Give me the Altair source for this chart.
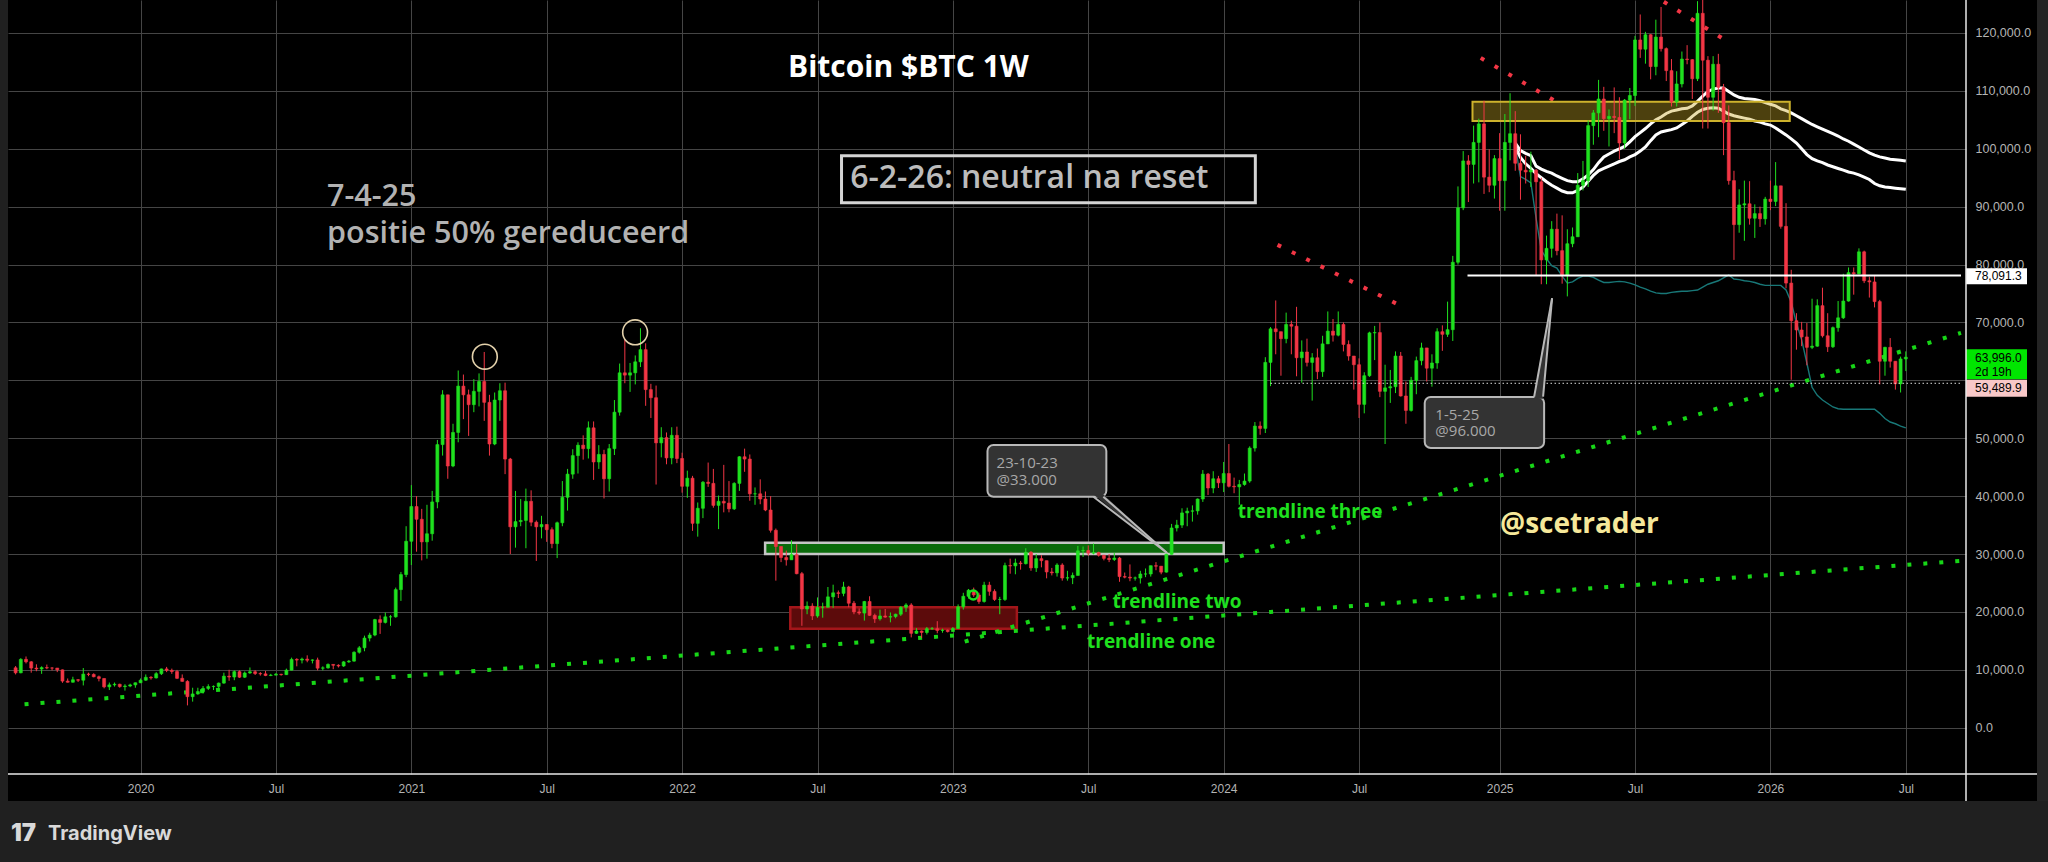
import altair as alt
import pandas as pd

# ------------------------------------------------------------------
# Weekly BTC candles, values in thousands of USD. Open = previous close.
# ------------------------------------------------------------------
FIRST_OPEN = 10.35

START_2019 = "2019-07-22"
CLOSE_2019 = [9.48, 11.8,
              11.38, 10.3, 10.14, 10.38,
              10.31, 10.3, 9.99, 8.05, 7.85,
              8.28, 8.2, 9.25, 9.2,
              8.8, 8.5, 7.05, 7.4,
              7.5, 7.1, 7.2, 7.39, 7.76]
HIGH_2019 = [10.65, 12.0,
             12.3, 11.5, 10.95, 10.6,
             10.9, 10.45, 10.3, 10.05, 8.5,
             8.8, 8.4, 10.3, 9.5,
             9.4, 9.0, 8.5, 7.8,
             7.8, 7.6, 7.5, 7.6, 7.8]
LOW_2019 = [9.2, 9.4,
            11.1, 9.5, 9.75, 9.3,
            10.1, 9.9, 9.6, 7.75, 7.8,
            7.8, 7.9, 7.3, 8.9,
            8.7, 8.0, 6.8, 6.5,
            7.1, 6.9, 6.4, 7.0, 6.9]

START_2020 = "2020-01-06"
CLOSE_2020 = [8.2, 8.7, 8.6, 9.33,
              10.15, 9.9, 9.7, 8.53,
              8.0, 5.36, 5.83, 6.24, 6.78,
              7.1, 7.13, 7.7, 8.9,
              8.75, 9.68, 8.72, 9.45,
              9.66, 9.35, 9.3, 9.01, 9.08,
              9.23, 9.16, 9.93, 11.8,
              11.68, 11.85, 11.65, 11.7, 10.28,
              10.33, 10.93, 10.78, 10.66,
              11.37, 11.5, 13.03, 13.8,
              15.48, 16.0, 18.67, 18.18, 19.15,
              19.15, 23.85, 26.45, 32.2]
HIGH_2020 = [8.5, 9.2, 8.9, 9.6,
             10.2, 10.5, 10.2, 9.98,
             9.2, 8.2, 6.9, 6.9, 7.2,
             7.5, 7.3, 7.8, 9.5,
             10.0, 9.9, 9.9, 9.7,
             10.4, 9.95, 9.6, 9.8, 9.3,
             9.45, 9.3, 10.2, 12.1,
             12.0, 12.1, 12.5, 11.8, 12.1,
             10.6, 11.1, 10.95, 10.95,
             11.5, 11.7, 13.2, 14.1,
             15.9, 16.4, 18.8, 19.4, 19.9,
             19.45, 24.2, 26.9, 34.8]
LOW_2020 = [7.7, 8.1, 8.3, 8.5,
            9.1, 9.6, 9.3, 8.4,
            7.95, 3.85, 4.5, 5.7, 5.9,
            6.5, 6.5, 6.8, 7.6,
            8.1, 8.2, 8.6, 8.6,
            9.3, 9.1, 9.0, 8.9, 8.9,
            9.05, 9.0, 9.1, 9.9,
            10.6, 11.1, 11.3, 11.1, 9.9,
            9.9, 10.2, 10.1, 10.4,
            10.5, 11.2, 11.4, 12.8,
            13.2, 14.9, 15.8, 16.2, 18.0,
            17.6, 19.0, 21.9, 26.0]

START_2021 = "2021-01-04"
CLOSE_2021 = [38.2, 36.0, 32.1, 33.5,
              39.0, 48.9, 57.5, 45.2,
              51.0, 59.0, 57.5, 55.8, 58.1,
              59.8, 56.2, 49.0, 56.6,
              58.2, 46.4, 34.7, 35.6, 35.8,
              39.1, 35.5, 34.7, 35.1,
              34.2, 31.8, 35.4, 39.8,
              43.8, 47.0, 48.8, 48.2, 51.8,
              45.9, 47.2, 43.0, 48.2,
              54.5, 61.3, 60.9, 61.3,
              63.2, 65.3, 58.4, 57.0, 49.2,
              50.1, 46.6, 50.5, 46.5]
HIGH_2021 = [41.9, 40.0, 37.8, 38.5,
             40.9, 49.7, 58.3, 57.5,
             52.5, 61.7, 61.0, 58.4, 60.2,
             61.2, 64.9, 57.5, 57.9,
             59.5, 59.6, 46.6, 40.9, 39.5,
             41.3, 41.0, 35.8, 36.6,
             35.1, 34.6, 35.6, 42.6,
             44.7, 48.1, 49.3, 50.5, 52.9,
             52.9, 48.8, 48.0, 49.0,
             56.6, 62.9, 67.0, 63.0,
             64.3, 69.0, 66.4, 59.4, 59.1,
             51.9, 51.0, 51.9, 52.0]
LOW_2021 = [28.1, 30.4, 28.9, 29.2,
            32.3, 37.9, 47.0, 43.0,
            45.0, 49.3, 53.3, 50.4, 54.5,
            55.5, 53.0, 47.0, 48.8,
            53.0, 43.8, 30.0, 31.1, 34.8,
            31.0, 34.8, 28.8, 32.7,
            32.1, 31.0, 29.3, 34.8,
            37.5, 43.0, 43.9, 46.3, 46.5,
            42.8, 44.7, 39.6, 40.8,
            47.1, 53.9, 59.5, 58.0,
            59.3, 62.3, 55.6, 53.5, 42.0,
            46.7, 45.5, 45.5, 45.7]

START_2022 = "2022-01-03"
CLOSE_2022 = [41.7, 43.1, 35.3, 37.9, 42.4,
              42.2, 38.4, 39.1, 38.8,
              37.8, 42.2, 46.8, 46.4,
              40.4, 40.4, 39.5, 37.6,
              34.1, 31.3, 29.4, 29.0, 29.9,
              26.6, 20.5, 21.0, 19.3,
              20.8, 20.8, 22.6, 23.3,
              23.2, 24.3, 21.5, 20.0, 19.8,
              21.8, 19.4, 18.8, 19.3,
              19.1, 19.2, 19.6, 20.8, 21.2,
              16.3, 16.7, 16.45, 17.1,
              17.1, 16.8, 16.85, 16.6]
HIGH_2022 = [47.5, 44.4, 43.5, 38.9, 42.6,
             45.8, 44.7, 40.1, 45.4,
             42.6, 42.4, 46.9, 48.2,
             47.2, 41.5, 42.9, 40.8,
             40.0, 34.4, 31.0, 30.6, 32.4,
             31.7, 26.9, 21.8, 21.5,
             22.5, 21.6, 24.3, 24.7,
             23.7, 25.2, 24.5, 21.9, 20.6,
             21.9, 22.7, 19.7, 20.4,
             20.5, 19.9, 19.7, 21.0, 21.5,
             21.5, 17.2, 16.8, 17.4,
             17.4, 18.4, 17.1, 16.95]
LOW_2022 = [40.6, 39.7, 34.0, 33.0, 36.2,
            41.6, 38.0, 34.3, 37.2,
            37.2, 37.6, 40.9, 44.2,
            39.2, 38.5, 38.6, 37.4,
            33.7, 25.4, 28.6, 28.0, 29.2,
            26.5, 17.6, 19.6, 18.6,
            19.0, 19.0, 20.8, 20.7,
            22.4, 22.7, 20.8, 19.6, 19.5,
            18.5, 19.3, 18.1, 18.5,
            19.0, 18.2, 18.9, 19.3, 20.0,
            15.6, 16.2, 15.5, 16.1,
            16.9, 16.3, 16.4, 16.45]

START_2023 = "2023-01-02"
CLOSE_2023 = [17.13, 20.88, 22.7, 23.75, 22.93,
              21.8, 24.63, 23.55, 22.15,
              22.15, 28.0, 27.95, 28.45,
              28.33, 30.3, 27.6, 29.2,
              28.85, 26.9, 26.75, 28.1, 25.85,
              25.9, 26.3, 30.55, 30.6,
              30.15, 30.25, 29.8, 29.25, 29.05,
              29.3, 26.1, 26.0, 25.85,
              25.85, 26.55, 26.55, 27.98,
              27.9, 26.87, 29.95, 34.5, 35.0,
              37.1, 37.4, 37.45, 39.5,
              43.8, 41.4, 43.0, 42.3]
HIGH_2023 = [17.4, 21.3, 23.3, 23.96, 24.2,
             23.3, 25.2, 25.2, 23.9,
             22.6, 28.5, 29.2, 29.2,
             28.8, 31.0, 30.5, 30.0,
             29.8, 28.8, 27.6, 28.4, 28.4,
             27.1, 26.8, 31.4, 31.3,
             31.5, 31.8, 30.4, 29.7, 30.0,
             30.2, 29.5, 26.8, 28.2,
             26.1, 27.1, 27.5, 28.0,
             28.6, 27.9, 30.4, 35.2, 35.9,
             37.9, 38.0, 38.4, 39.6,
             44.5, 44.0, 44.3, 43.5]
LOW_2023 = [16.6, 17.1, 20.4, 22.3, 22.6,
            21.4, 21.6, 22.8, 21.9,
            19.6, 21.9, 26.6, 26.5,
            27.3, 28.2, 27.1, 26.9,
            27.7, 25.8, 26.3, 26.1, 25.4,
            25.4, 24.8, 26.3, 29.5,
            29.7, 29.95, 29.55, 28.9, 28.6,
            28.8, 25.2, 25.8, 25.3,
            25.4, 24.9, 26.0, 26.1,
            27.2, 26.5, 26.8, 29.9, 33.9,
            34.5, 34.8, 35.6, 36.8,
            39.0, 40.2, 40.5, 41.4]

START_2024 = "2024-01-01"
CLOSE_2024 = [43.9, 41.7, 41.6, 42.0, 42.6,
              48.3, 52.1, 51.7, 63.1,
              68.9, 68.4, 67.2, 69.65,
              69.35, 63.9, 64.9, 63.1, 63.9,
              61.5, 66.3, 68.5, 67.8,
              69.65, 66.2, 64.2, 62.7,
              55.85, 60.8, 68.2, 68.25, 58.1,
              58.7, 58.9, 64.2, 57.3,
              54.8, 60.0, 63.4, 65.6, 62.1,
              63.0, 68.4, 67.95, 68.75,
              80.4, 89.8, 97.9, 97.3,
              101.1, 104.3, 95.1, 93.7, 98.3]
HIGH_2024 = [45.9, 49.0, 43.2, 42.8, 43.9,
             48.6, 52.8, 52.9, 64.0,
             69.2, 73.8, 68.1, 71.7,
             70.3, 72.7, 66.9, 67.2, 64.7,
             65.5, 67.7, 71.9, 70.6,
             71.9, 70.0, 66.9, 63.8,
             63.8, 61.4, 68.4, 69.4, 70.0,
             62.7, 61.8, 65.0, 64.9,
             59.8, 60.6, 64.1, 66.5, 65.5,
             64.5, 69.0, 69.5, 73.6,
             81.5, 93.5, 99.6, 98.9,
             104.0, 105.2, 108.3, 99.9, 98.9]
LOW_2024 = [40.7, 41.5, 40.5, 38.5, 41.8,
            42.3, 47.7, 50.6, 50.9,
            59.0, 64.5, 60.8, 66.4,
            64.5, 60.7, 59.6, 62.4, 56.5,
            60.2, 60.6, 66.6, 66.7,
            67.6, 65.0, 63.4, 58.4,
            53.5, 54.3, 60.6, 63.5, 57.1,
            49.0, 56.1, 57.8, 57.2,
            52.5, 54.6, 57.6, 62.6, 59.8,
            58.9, 62.0, 65.1, 67.5,
            66.8, 80.0, 89.4, 90.8,
            94.0, 94.2, 92.2, 92.5, 91.4]

START_2025 = "2025-01-06"
CLOSE_2025 = [94.5, 101.1, 102.6, 97.5,
              96.3, 96.0, 96.3, 94.3,
              80.8, 82.8, 86.1, 82.4, 78.2,
              83.6, 84.8, 93.7, 94.5,
              104.0, 106.2, 108.6, 105.2,
              105.6, 105.4, 101.0, 108.4, 109.2,
              118.8, 117.2, 119.7, 114.2,
              119.3, 117.3, 113.5, 108.1,
              111.2, 115.5, 115.4, 112.1, 123.4,
              115.3, 108.9, 114.6, 110.6,
              104.5, 94.5, 86.9, 90.3,
              90.5, 88.0, 88.8, 87.9, 91.3]
HIGH_2025 = [102.7, 106.0, 109.6, 106.5,
             102.5, 98.8, 99.5, 96.5,
             95.0, 85.0, 87.5, 88.8, 88.5,
             86.1, 86.4, 95.8, 97.9,
             104.9, 106.7, 111.9, 110.7,
             106.8, 110.6, 108.9, 108.6, 110.5,
             119.5, 123.2, 120.2, 119.8,
             122.3, 124.5, 117.5, 115.5,
             113.4, 116.8, 117.9, 115.5, 125.5,
             126.2, 116.0, 116.0, 116.4,
             111.2, 107.5, 96.2, 93.0,
             94.5, 94.4, 90.4, 90.0, 91.7]
LOW_2025 = [89.3, 89.3, 98.0, 96.2,
            91.2, 94.0, 93.4, 78.2,
            76.6, 76.6, 81.2, 81.6, 76.7,
            74.5, 83.0, 85.1, 92.8,
            93.4, 100.7, 102.0, 103.1,
            100.4, 102.7, 98.2, 100.0, 105.1,
            107.4, 115.7, 114.7, 112.0,
            112.7, 116.8, 111.7, 107.3,
            107.3, 110.6, 114.6, 108.6, 111.7,
            103.5, 103.5, 106.6, 106.2,
            98.9, 93.8, 80.8, 85.5,
            84.1, 86.9, 84.6, 86.5, 86.9]

START_2026 = "2026-01-05"
CLOSE_2026 = [90.9, 93.6, 86.6, 76.8,
              70.3, 68.7, 67.5, 65.7,
              65.9, 72.9, 67.7, 65.8, 69.1,
              70.8, 73.7, 78.6, 78.4,
              82.2, 77.2, 77.0, 73.6,
              63.3, 65.7, 63.3, 59.4, 63.7,
              64.0]
HIGH_2026 = [94.5, 97.7, 93.6, 90.6,
             79.1, 71.6, 70.1, 69.9,
             74.1, 74.0, 76.0, 71.6, 69.3,
             73.7, 78.4, 79.5, 79.5,
             82.8, 82.4, 77.9, 78.1,
             73.9, 65.8, 67.3, 63.3, 64.1,
             65.0]
LOW_2026 = [89.4, 90.1, 86.2, 75.9,
            60.1, 65.3, 65.9, 62.6,
            65.4, 65.8, 67.4, 64.9, 65.6,
            68.4, 70.6, 73.6, 74.8,
            78.3, 76.8, 74.3, 72.6,
            59.3, 60.8, 62.2, 58.4, 57.9,
            61.6]

# ------------------------------------------------------------------
# Indicator lines (weekly, from 2025-01-27), thousands of USD
# ------------------------------------------------------------------
LINES_START = "2025-01-27"
MA_UPPER = [101.0,
            99.7, 99.2, 98.8, 97.0,
            96.5, 96.1, 95.8, 95.3, 94.9,
            94.5, 94.3, 94.3, 94.8,
            95.5, 96.4, 97.6, 98.6,
            99.1, 99.6, 100.0, 100.4, 101.2,
            102.1, 102.8, 103.5, 104.3,
            105.0, 105.5, 106.1, 106.5,
            106.7, 106.9, 107.0, 107.4, 108.2,
            109.1, 109.9, 110.3, 110.5,
            110.5, 109.9, 109.3, 108.9,
            108.7, 108.6, 108.5, 108.3, 108.0,
            107.7, 107.4, 106.9, 106.6,
            106.2, 105.7, 105.2, 104.7,
            104.2, 103.8, 103.4, 103.0, 102.6,
            102.2, 101.7, 101.3, 100.8,
            100.3, 99.8, 99.3, 98.9,
            98.6, 98.4, 98.2, 98.1, 98.0,
            97.9]
MA_LOWER = [100.3,
            98.5, 97.4, 96.6, 95.7,
            95.0, 94.3, 93.7, 93.2, 92.7,
            92.4, 92.4, 92.8, 93.4,
            94.4, 95.4, 96.2, 96.6,
            97.0, 97.4, 97.8, 98.1, 98.6,
            99.0, 99.6, 100.3, 101.4,
            102.4, 102.9, 103.1, 103.3,
            103.6, 104.2, 104.8, 105.6, 106.3,
            106.8, 107.0, 107.1, 107.0,
            106.5, 106.0, 105.7, 105.5,
            105.3, 105.1, 104.8, 104.6, 104.3,
            104.1, 103.6, 103.0, 102.4,
            101.7, 101.0, 100.0, 99.0,
            98.3, 97.9, 97.6, 97.2, 96.9,
            96.6, 96.3, 96.0, 95.8,
            95.5, 95.1, 94.7, 94.0,
            93.6, 93.4, 93.3, 93.2, 93.1,
            93.0]
TEAL_LINE = [100.4,
             95.2, 94.7, 94.1, 88.0,
             82.5, 81.0, 79.8, 79.4, 78.0,
             76.8, 77.0, 77.6, 78.0,
             78.0, 77.8, 77.3, 76.9,
             76.9, 77.0, 77.1, 77.0, 76.8,
             76.5, 76.1, 75.8, 75.4,
             75.1, 75.0, 75.0, 75.2,
             75.3, 75.4, 75.4, 75.5, 75.6,
             76.1, 76.6, 76.9, 77.2,
             77.7, 78.2, 77.5, 77.4,
             77.2, 77.1, 76.9, 76.6, 76.4,
             76.4, 76.4, 76.4, 75.6,
             73.5, 69.9, 67.0, 63.0,
             58.8, 57.4, 56.6, 56.0, 55.4,
             55.1, 55.0, 55.0, 55.0,
             55.0, 55.0, 55.0, 55.0,
             54.3, 53.4, 52.8, 52.5, 52.1,
             51.8]

# ------------------------------------------------------------------
# Drawings (dates, prices in thousands)
# ------------------------------------------------------------------
DOMAIN_START = "2019-07-18T12:00:00Z"
DOMAIN_END = "2026-09-18T05:00:00Z"

TREND_ID = ["one", "one", "two", "two"]
TREND_DATE = ["2019-08-03T00:00:00Z", DOMAIN_END, "2023-01-17T22:00:00Z", DOMAIN_END]
TREND_PRICE = [4.04, 28.82, 14.86, 68.2]

RES_ID = ["r1", "r1", "r2", "r2", "r3", "r3"]
RES_DATE = ["2024-03-13T10:00:00Z", "2024-09-01T22:00:00Z",
            "2024-12-11T14:00:00Z", "2025-04-02T02:00:00Z",
            "2025-08-14T17:00:00Z", "2025-11-13T14:00:00Z"]
RES_PRICE = [83.4, 72.45, 115.7, 107.4, 125.4, 118.1]

BOX_NAME = ["support", "accumulation", "resistance"]
BOX_START = ["2022-04-24T14:00:00Z", "2022-05-28T10:00:00Z", "2024-11-30T12:00:00Z"]
BOX_END = ["2024-01-01T02:00:00Z", "2023-03-29T00:00:00Z", "2026-01-31T00:00:00Z"]
BOX_LOW = [30.0, 17.1, 104.8]
BOX_HIGH = [31.96, 20.8, 108.14]

CIRCLE_DATE = ["2021-04-12T19:00:00Z", "2021-10-31T19:00:00Z"]
CIRCLE_PRICE = [64.09, 68.3]
RING_DATE = ["2023-01-29T10:00:00Z"]
RING_PRICE = [22.92]

LEVEL_PRICE = 78.0913
LEVEL_START = "2024-11-23T19:00:00Z"
LAST_LOW_PRICE = 59.4899
LAST_LOW_START = "2024-03-04T00:00:00Z"
LAST_PRICE = 63.996

CALLOUT_START = ["2023-02-17T12:00:00Z", "2024-09-27T07:00:00Z"]
CALLOUT_END = ["2023-07-27T07:00:00Z", "2025-03-06T19:00:00Z"]
CALLOUT_TOP = [48.83, 57.13]
CALLOUT_BOTTOM = [39.9, 48.32]
CALLOUT_TEXT_DATE = ["2023-03-01T19:00:00Z", "2024-10-11T14:00:00Z"]
CALLOUT_TEXT_PRICE = [44.85, 53.15]
CALLOUT_TEXT = ["23-10-23\n@33.000", "1-5-25\n@96.000"]
PTR_ID = ["p1", "p2"]
PTR_BASE_L = ["2023-07-09T22:00:00Z", "2025-02-21T10:00:00Z"]
PTR_BASE_R = ["2023-07-23T07:00:00Z", "2025-03-05T10:00:00Z"]
PTR_BASE_FILL = [40.3, 56.8]
PTR_BASE_EDGE = [39.9, 57.18]
PTR_TIP = ["2023-10-16T22:00:00Z", "2025-03-17T12:00:00Z"]
PTR_TIP_PRICE = [30.18, 74.18]

TITLE_TEXT = "Bitcoin $BTC 1W"
TITLE_DATE, TITLE_PRICE = "2022-11-03T05:00:00Z", 112.4
STATUS_TEXT = "6-2-26: neutral na reset"
STATUS_DATE, STATUS_PRICE = "2022-08-16T22:00:00Z", 93.18
STATUS_BOX = ("2022-08-05T07:00:00Z", "2024-02-12T14:00:00Z", 90.69, 98.81)
NOTE_TEXT = ["7-4-25", "positie 50% gereduceerd"]
NOTE_DATE = ["2020-09-12T17:00:00Z", "2020-09-12T17:00:00Z"]
NOTE_PRICE = [90.2, 83.64]
HANDLE_TEXT, HANDLE_DATE, HANDLE_PRICE = "@scetrader", "2025-01-06T14:00:00Z", 33.58
TL_TEXT = ["trendline three", "trendline two", "trendline one"]
TL_DATE = ["2024-01-19T22:00:00Z", "2023-08-04T10:00:00Z", "2023-07-01T07:00:00Z"]
TL_PRICE = [36.17, 20.63, 13.82]

TICK_DATES = ["2020-01-06", "2020-07-06", "2021-01-04", "2021-07-05", "2022-01-03",
              "2022-07-04", "2023-01-02", "2023-07-03", "2024-01-01", "2024-07-01",
              "2025-01-06", "2025-07-07", "2026-01-05", "2026-07-06"]
PRICE_TICKS = [0, 10000, 20000, 30000, 40000, 50000, 60000, 70000, 80000,
               90000, 100000, 110000, 120000]
HIDDEN_TICK = 60000   # covered by the price labels in the reference

# ------------------------------------------------------------------
GREEN = "#1fe01f"
RED = "#f23645"
DOT_GREEN = "#17d617"
GRID = "#454545"
AXIS_TXT = "#b4b4b4"
FRAME = "#202020"


def iso(ts):
    return pd.Timestamp(ts).strftime("%Y-%m-%dT%H:%M:%SZ")


def ms(s):
    return int(pd.Timestamp(s).value // 10**6)


years = [(START_2019, CLOSE_2019, HIGH_2019, LOW_2019),
         (START_2020, CLOSE_2020, HIGH_2020, LOW_2020),
         (START_2021, CLOSE_2021, HIGH_2021, LOW_2021),
         (START_2022, CLOSE_2022, HIGH_2022, LOW_2022),
         (START_2023, CLOSE_2023, HIGH_2023, LOW_2023),
         (START_2024, CLOSE_2024, HIGH_2024, LOW_2024),
         (START_2025, CLOSE_2025, HIGH_2025, LOW_2025),
         (START_2026, CLOSE_2026, HIGH_2026, LOW_2026)]
rows = []
prev = FIRST_OPEN
for start, cl, hi, lo in years:
    dates = pd.date_range(start, periods=len(cl), freq="7D")
    for d, c, h, l in zip(dates, cl, hi, lo):
        o = prev
        rows.append(dict(date=iso(d), open=o * 1000, close=c * 1000,
                         high=max(h, o, c) * 1000, low=min(l, o, c) * 1000,
                         col=GREEN if c >= o else RED))
        prev = c
candles = pd.DataFrame(rows)

ldates = [iso(d) for d in pd.date_range(LINES_START, periods=len(MA_UPPER), freq="7D")]
ma_df = pd.DataFrame({"date": ldates * 2,
                      "v": [v * 1000 for v in MA_UPPER + MA_LOWER],
                      "s": ["up"] * len(MA_UPPER) + ["lo"] * len(MA_LOWER)})
tdates = [iso(d) for d in pd.date_range(LINES_START, periods=len(TEAL_LINE), freq="7D")]
teal_df = pd.DataFrame({"date": tdates, "v": [v * 1000 for v in TEAL_LINE]})

XS = alt.Scale(type="utc", domain=[ms(DOMAIN_START), ms(DOMAIN_END)])
YS = alt.Scale(domain=[-8000, 125700], nice=False, zero=False)

X_AXIS = alt.Axis(values=[ms(t) for t in TICK_DATES],
                  labelExpr="utcmonth(datum.value) == 0 ? utcFormat(datum.value, '%Y') : 'Jul'",
                  grid=True, gridColor=GRID, gridWidth=1, domain=False, ticks=False,
                  labelColor=AXIS_TXT, labelFont="Liberation Sans", labelFontSize=12,
                  labelPadding=9, labelOverlap=False, labelFlush=False, title=None)
Y_AXIS = alt.Axis(orient="right", values=PRICE_TICKS,
                  labelExpr=f"datum.value == {HIDDEN_TICK} ? '' : format(datum.value, ',.1f')",
                  grid=True, gridColor=GRID, gridWidth=1, domain=False, ticks=False,
                  labelColor=AXIS_TXT, labelFont="Liberation Sans", labelFontSize=12.5,
                  labelPadding=9, labelOverlap=False, labelFlush=False, title=None)


def X(f):
    return alt.X(f"{f}:T", scale=XS, axis=X_AXIS)


def Y(f):
    return alt.Y(f"{f}:Q", scale=YS, axis=Y_AXIS)


def one():
    return pd.DataFrame({"k": [0]})


layers = []

# frame outside the chart panels
layers.append(alt.Chart(one()).mark_rect(color=FRAME).encode(
    x=alt.value(-8), x2=alt.value(2045), y=alt.value(801), y2=alt.value(870)))
layers.append(alt.Chart(one()).mark_rect(color=FRAME).encode(
    x=alt.value(-8), x2=alt.value(0), y=alt.value(0), y2=alt.value(801)))
layers.append(alt.Chart(one()).mark_rect(color="#242424").encode(
    x=alt.value(2029), x2=alt.value(2045), y=alt.value(0), y2=alt.value(801)))

# boxes (support / accumulation)
box_df = pd.DataFrame({"name": BOX_NAME, "a": BOX_START, "b": BOX_END,
                       "lo": [v * 1000 for v in BOX_LOW], "hi": [v * 1000 for v in BOX_HIGH]})
layers.append(alt.Chart(box_df[box_df.name == "support"]).mark_rect(
    fill="#0b6a0b", stroke="#c6c6c6", strokeWidth=2.5).encode(
    x=X("a"), x2="b", y=Y("lo"), y2="hi"))
layers.append(alt.Chart(box_df[box_df.name == "accumulation"]).mark_rect(
    fill="#5c0b0b", stroke="#a3161a", strokeWidth=2.5).encode(
    x=X("a"), x2="b", y=Y("lo"), y2="hi"))

# dotted trendlines
trend_df = pd.DataFrame({"id": TREND_ID, "d": TREND_DATE, "p": [v * 1000 for v in TREND_PRICE]})
layers.append(alt.Chart(trend_df).mark_line(
    color=DOT_GREEN, strokeWidth=4, strokeDash=[4, 12], strokeCap="butt", clip=True).encode(
    x=X("d"), y=Y("p"), detail="id:N"))
res_df = pd.DataFrame({"id": RES_ID, "d": RES_DATE, "p": [v * 1000 for v in RES_PRICE]})
layers.append(alt.Chart(res_df).mark_line(
    color=RED, strokeWidth=4, strokeDash=[4, 12], strokeCap="butt", clip=True).encode(
    x=X("d"), y=Y("p"), detail="id:N"))

# indicator lines
layers.append(alt.Chart(teal_df).mark_line(color="#187878", strokeWidth=1.4, clip=True).encode(
    x=X("date"), y=Y("v")))
layers.append(alt.Chart(ma_df).mark_line(color="#ffffff", strokeWidth=3, clip=True).encode(
    x=X("date"), y=Y("v"), detail="s:N"))

# yellow resistance box (translucent, over the lines)
layers.append(alt.Chart(box_df[box_df.name == "resistance"]).mark_rect(
    fill="#c9a825", fillOpacity=0.38, stroke="#cdb22c", strokeWidth=2).encode(
    x=X("a"), x2="b", y=Y("lo"), y2="hi"))

# candles
layers.append(alt.Chart(candles).mark_rule(strokeWidth=1, clip=True).encode(
    x=X("date"), y=Y("low"), y2="high:Q",
    color=alt.Color("col:N", scale=None)))
layers.append(alt.Chart(candles).mark_bar(width=3.0, strokeWidth=0.6, clip=True).encode(
    x=X("date"), y=Y("open"), y2="close",
    fill=alt.Fill("col:N", scale=None), stroke=alt.Stroke("col:N", scale=None)))

# horizontal levels
lvl_df = pd.DataFrame({"a": [LEVEL_START], "b": [DOMAIN_END], "p": [LEVEL_PRICE * 1000]})
layers.append(alt.Chart(lvl_df).mark_rule(color="#ffffff", strokeWidth=2, clip=True).encode(
    x=X("a"), x2="b", y=Y("p")))
low_df = pd.DataFrame({"a": [LAST_LOW_START], "b": [DOMAIN_END], "p": [LAST_LOW_PRICE * 1000]})
layers.append(alt.Chart(low_df).mark_rule(color="#dddddd", strokeWidth=1,
                                          strokeDash=[1.5, 2.5], clip=True).encode(
    x=X("a"), x2="b", y=Y("p")))

# circles
circ_df = pd.DataFrame({"d": CIRCLE_DATE, "p": [v * 1000 for v in CIRCLE_PRICE]})
layers.append(alt.Chart(circ_df).mark_point(shape="circle", filled=False, size=616,
                                            strokeWidth=1.6, color="#e3d1ab", opacity=1).encode(
    x=X("d"), y=Y("p")))
ring_df = pd.DataFrame({"d": RING_DATE, "p": [v * 1000 for v in RING_PRICE]})
layers.append(alt.Chart(ring_df).mark_point(shape="circle", filled=False, size=80,
                                            strokeWidth=2.5, color=GREEN, opacity=1).encode(
    x=X("d"), y=Y("p")))

# callouts
call_df = pd.DataFrame({"a": CALLOUT_START, "b": CALLOUT_END,
                        "t": [v * 1000 for v in CALLOUT_TOP],
                        "bo": [v * 1000 for v in CALLOUT_BOTTOM]})
layers.append(alt.Chart(call_df).mark_rect(fill="#333333", stroke="#b8b8b8", strokeWidth=2,
                                           cornerRadius=6).encode(
    x=X("a"), x2="b", y=Y("t"), y2="bo"))
ptr_rows = []
edge_rows = []
for i in range(len(PTR_ID)):
    ptr_rows.append(dict(id=PTR_ID[i], p=PTR_BASE_FILL[i] * 1000, l=PTR_BASE_L[i], r=PTR_BASE_R[i]))
    ptr_rows.append(dict(id=PTR_ID[i], p=PTR_TIP_PRICE[i] * 1000, l=PTR_TIP[i], r=PTR_TIP[i]))
    for side, base in (("L", PTR_BASE_L[i]), ("R", PTR_BASE_R[i])):
        edge_rows.append(dict(id=PTR_ID[i] + side, d=base, p=PTR_BASE_EDGE[i] * 1000))
        edge_rows.append(dict(id=PTR_ID[i] + side, d=PTR_TIP[i], p=PTR_TIP_PRICE[i] * 1000))
ptr_df = pd.DataFrame(ptr_rows)
edge_df = pd.DataFrame(edge_rows)
for pid in PTR_ID:
    layers.append(alt.Chart(ptr_df[ptr_df.id == pid]).mark_area(
        orient="horizontal", color="#333333", opacity=1).encode(
        y=Y("p"), x=X("l"), x2="r"))
layers.append(alt.Chart(edge_df).mark_line(color="#b8b8b8", strokeWidth=2).encode(
    x=X("d"), y=Y("p"), detail="id:N"))
ctext_df = pd.DataFrame({"d": CALLOUT_TEXT_DATE, "p": [v * 1000 for v in CALLOUT_TEXT_PRICE],
                         "t": CALLOUT_TEXT})
layers.append(alt.Chart(ctext_df).mark_text(align="left", baseline="alphabetic",
                                             lineBreak="\n", lineHeight=16.5,
                                             font="Open Sans", fontSize=15, color="#a8a8a8").encode(
    x=X("d"), y=Y("p"), text="t:N"))

# status box
sb_df = pd.DataFrame({"a": [STATUS_BOX[0]], "b": [STATUS_BOX[1]],
                      "lo": [STATUS_BOX[2] * 1000], "hi": [STATUS_BOX[3] * 1000]})
layers.append(alt.Chart(sb_df).mark_rect(fillOpacity=0, stroke="#d4d4d4", strokeWidth=3).encode(
    x=X("a"), x2="b", y=Y("lo"), y2="hi"))
layers.append(alt.Chart(pd.DataFrame({"d": [STATUS_DATE], "p": [STATUS_PRICE * 1000],
                                      "t": [STATUS_TEXT]})).mark_text(
    align="left", baseline="alphabetic", font="Open Sans", fontSize=32, fontWeight=600,
    color="#bcbcbc").encode(x=X("d"), y=Y("p"), text="t:N"))

# title
layers.append(alt.Chart(pd.DataFrame({"d": [TITLE_DATE], "p": [TITLE_PRICE * 1000],
                                      "t": [TITLE_TEXT]})).mark_text(
    align="center", baseline="alphabetic", font="Open Sans", fontSize=30, fontWeight="bold",
    color="#ffffff").encode(x=X("d"), y=Y("p"), text="t:N"))

# note
layers.append(alt.Chart(pd.DataFrame({"d": NOTE_DATE, "p": [v * 1000 for v in NOTE_PRICE],
                                      "t": NOTE_TEXT})).mark_text(
    align="left", baseline="alphabetic", font="Open Sans", fontSize=30.5, fontWeight=600,
    color="#b2b2b2").encode(x=X("d"), y=Y("p"), text="t:N"))

# handle
layers.append(alt.Chart(pd.DataFrame({"d": [HANDLE_DATE], "p": [HANDLE_PRICE * 1000],
                                      "t": [HANDLE_TEXT]})).mark_text(
    align="left", baseline="alphabetic", font="Open Sans", fontSize=28, fontWeight="bold",
    color="#f6e89a").encode(x=X("d"), y=Y("p"), text="t:N"))

# trendline labels
layers.append(alt.Chart(pd.DataFrame({"d": TL_DATE, "p": [v * 1000 for v in TL_PRICE],
                                      "t": TL_TEXT})).mark_text(
    align="left", baseline="alphabetic", font="Open Sans", fontSize=19, fontWeight="bold",
    color="#1ee01e").encode(x=X("d"), y=Y("p"), text="t:N"))

# price labels on the right scale
for price, col, top, bot in ((LEVEL_PRICE, "#ffffff", -7.3, 8.7),
                             (LAST_PRICE, "#00e600", -8, 22),
                             (LAST_LOW_PRICE, "#f8c8c8", -3.5, 13.4)):
    layers.append(alt.Chart(pd.DataFrame({"p": [price * 1000]})).mark_rect(
        color=col, yOffset=top, y2Offset=bot).encode(
        x=alt.value(1958), x2=alt.value(2019), y=Y("p"), y2="p"))
for txt, price, dy in (("78,091.3", LEVEL_PRICE, 0.7), ("63,996.0\n2d 19h", LAST_PRICE, 0.3),
                       ("59,489.9", LAST_LOW_PRICE, 5.2)):
    layers.append(alt.Chart(pd.DataFrame({"p": [price * 1000], "t": [txt]})).mark_text(
        align="left", baseline="middle", font="Liberation Sans", fontSize=12,
        lineBreak="\n", lineHeight=14.5,
        color="#000000", dy=dy).encode(x=alt.value(1967), y=Y("p"), text="t:N"))

# white separators
layers.append(alt.Chart(one()).mark_rule(color="#e8e8e8", strokeWidth=1.5).encode(
    x=alt.value(1958), y=alt.value(0), y2=alt.value(801)))
layers.append(alt.Chart(one()).mark_rule(color="#e8e8e8", strokeWidth=1.5).encode(
    x=alt.value(0), x2=alt.value(2029), y=alt.value(774)))

# TradingView logo
layers.append(alt.Chart(one()).mark_text(align="left", baseline="alphabetic", font="Inter",
                                         fontSize=24, fontWeight=900, color="#d9d9d9").encode(
    x=alt.value(3), y=alt.value(841), text=alt.value("17")))
layers.append(alt.Chart(one()).mark_text(align="left", baseline="alphabetic", font="Inter",
                                         fontSize=20, fontWeight="bold", color="#d9d9d9").encode(
    x=alt.value(40), y=alt.value(840), text=alt.value("TradingView")))

chart = alt.layer(*layers).properties(
    width=1958, height=774,
    padding={"left": 8, "top": 0, "right": 82, "bottom": 88},
    autosize=alt.AutoSizeParams(type="none"),
    background="#000000",
).configure_view(stroke=None, fill="#000000")

chart.save("out.html", embed_options={"renderer": "svg", "actions": False})
